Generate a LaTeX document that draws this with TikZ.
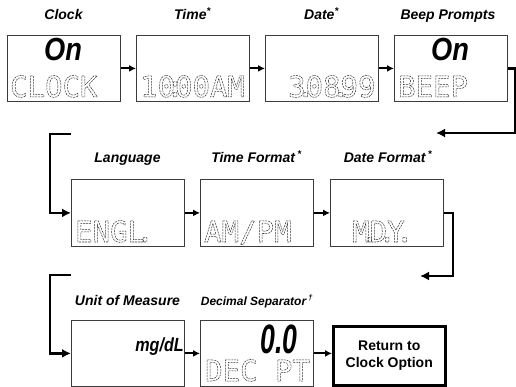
\documentclass[tikz,border=0pt]{standalone}
\usepackage{fontspec}
\setmainfont{Liberation Sans}
\newfontfamily\segfont{DejaVu Sans Mono}
\usetikzlibrary{arrows.meta}
\definecolor{PanelGray}{RGB}{60,60,60}
\newcommand{\ghost}[1]{\special{pdf:literal direct 1 Tr 0.5 w [2 0.9] 0 d 0.2 G}#1\special{pdf:literal direct 0 Tr [] 0 d 0 G}}
\newcommand{\segdot}[1]{\makebox[0pt]{#1}}
\tikzset{
  panel/.style={draw=PanelGray,line width=0.8pt,anchor=north west,inner sep=0pt,
    minimum width=113pt,minimum height=66pt},
  returnbox/.style={draw=black,line width=2.5pt,anchor=north west,align=center,
    minimum width=112pt,minimum height=59pt,font=\fontsize{14}{17}\selectfont\bfseries},
  heading/.style={anchor=base,inner sep=0pt,font=\fontsize{14}{16}\selectfont\bfseries\itshape},
  segtext/.style={anchor=base west,inner sep=0pt,text height=21pt,text depth=0pt,
    font=\fontsize{29}{29}\selectfont\segfont},
  bigtext/.style={anchor=base,inner sep=0pt,text depth=0pt,font=\fontsize{32}{32}\selectfont\bfseries\itshape},
  link/.style={-{Latex[length=7pt,width=7pt]},line width=2pt},
  wrap/.style={-{Latex[length=9pt,width=9pt]},line width=2.6pt}
}

\begin{document}
\begin{tikzpicture}[x=1pt,y=-1pt]
  \useasboundingbox (0,0) rectangle (516,387);
  \node[panel] (b1) at (7,35) {};
  \node[panel] (b2) at (136,35) {};
  \node[panel] (b3) at (265,35) {};
  \node[panel] (b4) at (394,35) {};
  \node[panel,minimum height=67pt] (b5) at (71,179) {};
  \node[panel,minimum height=67pt] (b6) at (200,179) {};
  \node[panel,minimum height=67pt] (b7) at (330,179) {};
  \node[panel] (b8) at (71,320) {};
  \node[panel] (b9) at (200,320) {};
  \node[returnbox] (ret) at (332,325) {Return to\\Clock Option};

  \node[heading] (t1) at (63.5,20) {Clock};
  \node[heading] (t2) at (192.5,20) {Time\textsuperscript{*}};
  \node[heading] (t3) at (321.5,20) {Date\textsuperscript{*}};
  \node[heading] (t4) at (448,20) {Beep Prompts};
  \node[heading] (t5) at (127.5,163) {Language};
  \node[heading] (t6) at (256.5,163) {Time Format\,\textsuperscript{*}};
  \node[heading] (t7) at (388,163) {Date Format\,\textsuperscript{*}};
  \node[heading] (t8) at (127.5,305) {Unit of Measure};
  \node[heading,font=\fontsize{12}{14}\selectfont\bfseries\itshape] (t9) at (257,305)
    {Decimal Separator\,\textsuperscript{\textdagger}};

  \node[bigtext] (on1) at (63,61) {\scalebox{0.85}[1]{On}};
  \node[bigtext] (on4) at (450,61) {\scalebox{0.85}[1]{On}};
  \node[segtext] (g1) at (10,97) {\ghost{CLOCK}};
  \node[segtext] (g2) at (140,97) {\ghost{10\segdot{:}00AM}};
  \node[segtext] (g3) at (288,97) {\ghost{3\segdot{.}08\segdot{.}99}};
  \node[segtext] (g4) at (398,97) {\ghost{BEEP}};
  \node[segtext] (g5) at (75,242) {\ghost{ENGL\segdot{.}}};
  \node[segtext] (g6) at (204,242) {\ghost{AM/PM}};
  \node[segtext] (g7) at (352,242) {\ghost{M\segdot{.}D\segdot{.}Y\segdot{.}}};
  \node[anchor=base east,inner sep=0pt,font=\fontsize{19}{19}\selectfont\bfseries\itshape]
    (u8) at (184,351) {\scalebox{0.85}[1]{mg/dL}};
  \node[anchor=base east,inner sep=0pt,text depth=0pt,font=\fontsize{41}{41}\selectfont\bfseries\itshape]
    (d9) at (298,353) {\scalebox{0.65}[1]{0.0}};
  \node[segtext] (g9) at (205,381) {\ghost{DEC PT}};

  \coordinate (r1) at (436,133);
  \coordinate (l1) at (71,134);
  \coordinate (r2) at (420,276);
  \coordinate (l2) at (71,275);

  \draw[link] (b1.east) -- (b2.west);
  \draw[link] (b2.east) -- (b3.west);
  \draw[link] (b3.east) -- (b4.west);
  \draw[wrap] (b4.east) -- ++(7,0) |- (r1);
  \draw[wrap] (l1) -- ++(-21,0) |- (b5.west);
  \draw[link] (b5.east) -- (b6.west);
  \draw[link] (b6.east) -- (b7.west);
  \draw[wrap] (b7.east) -- ++(9,0) |- (r2);
  \draw[wrap] (l2) -- ++(-21,0) |- (b8.west);
  \draw[link] (b8.east) -- (b9.west);
  \draw[link] (b9.east) -- (b9.east -| ret.west);
\end{tikzpicture}
\end{document}
